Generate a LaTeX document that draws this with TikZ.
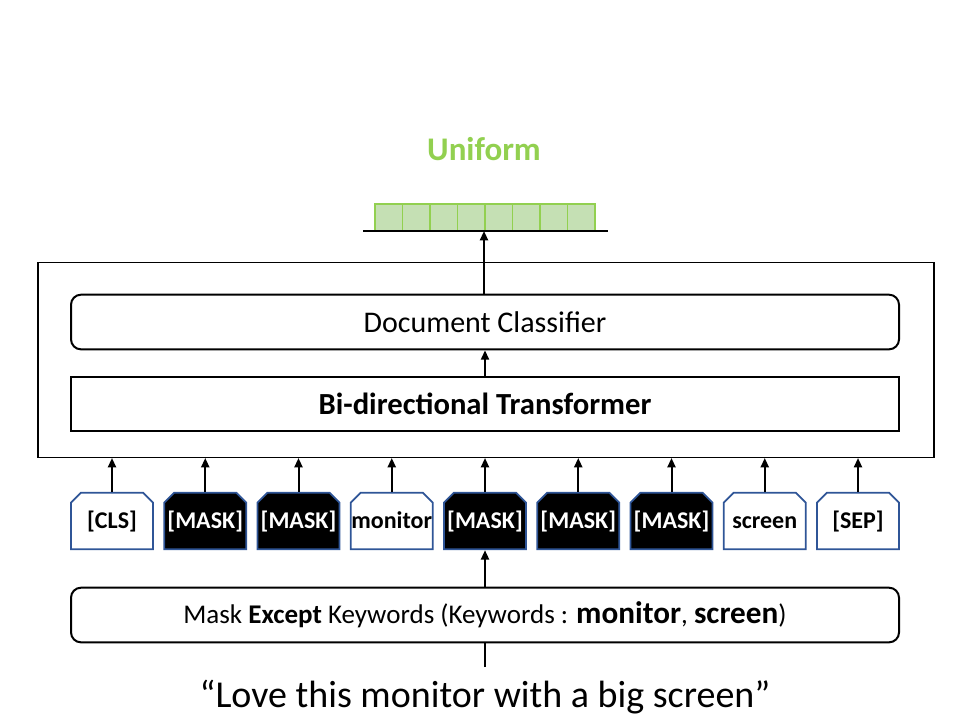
\documentclass[tikz,border=0pt]{standalone}
\usepackage{fontspec}
\setmainfont{Carlito}
\usetikzlibrary{arrows.meta,shapes.misc}
\definecolor{tokblue}{HTML}{2F5597}
\definecolor{cellfill}{HTML}{C5E0B4}
\definecolor{celldraw}{HTML}{92D050}
\tikzset{
  up/.style={line width=1.5pt,-{Triangle[length=7pt,width=6pt]}},
  layer/.style={draw,line width=1.5pt,minimum width=621pt,minimum height=41pt,inner sep=0pt},
  tok/.style={chamfered rectangle,chamfered rectangle corners={north west,north east},
    chamfered rectangle xsep=7.5pt,chamfered rectangle ysep=7.5pt,
    draw=tokblue,line width=1.3pt,minimum width=61.5pt,minimum height=42.5pt,inner sep=0pt,
    font=\fontsize{18}{20}\selectfont\bfseries},
  plain/.style={tok,fill=white,text=black},
  masked/.style={tok,fill=black,text=white},
}
\begin{document}
\begin{tikzpicture}[x=0.75pt,y=-0.75pt]
  \useasboundingbox(0,0)rectangle(969,726);
  % output bar
  \node[text=celldraw,font=\fontsize{24.75}{26}\selectfont\bfseries] (uniform) at (484,149) {Uniform};
  \foreach \i in {0,...,7}
    \filldraw[fill=cellfill,draw=celldraw,line width=1pt] (375+27.5*\i,204) rectangle ++(27.5,27);
  \coordinate (barl) at (363,231);
  \coordinate (barr) at (608,231);
  \coordinate (bar) at (484,231);
  \draw[line width=1.2pt] (barl) -- (barr);
  % model
  \node[draw,line width=1pt,minimum width=672pt,minimum height=146pt,inner sep=0pt] (model) at (486,360) {};
  \node[layer,rounded corners=7.5pt,font=\fontsize{22.5}{24}\selectfont] (clf) at (485,322) {Document Classifier};
  \node[layer,font=\fontsize{23}{24}\selectfont\bfseries] (bert) at (485,404) {Bi-directional Transformer};
  \draw[up] (clf.north -| bar) -- (bar);
  \draw[up] (bert.north) -- (clf.south);
  % tokens
  \foreach \lab/\sty [count=\k] in {{[CLS]}/plain,{[MASK]}/masked,{[MASK]}/masked,monitor/plain,
      {[MASK]}/masked,{[MASK]}/masked,{[MASK]}/masked,screen/plain,{[SEP]}/plain}{
    \node[\sty] (t\k) at (112+93.25*\k-93.25,521) {\makebox[0pt]{\vphantom{[}\lab}};
    \draw[up] (t\k.north) -- (t\k.north |- model.south);
  }
  % masking step
  \node[layer,rounded corners=7.5pt,font=\fontsize{20.25}{22}\selectfont] (mask) at (485,615)
    {Mask \textbf{Except} Keywords (Keywords : {\fontsize{23.4}{24}\selectfont\bfseries monitor}, {\fontsize{23.4}{24}\selectfont\bfseries screen})};
  \draw[up] (mask.north) -- (t5.south);
  \node[font=\fontsize{28.5}{30}\selectfont] (sent) at (485,697) {“Love this monitor with a big screen”};
  \coordinate (senttop) at (485,667);
  \draw[line width=1.2pt] (senttop) -- (mask.south);
\end{tikzpicture}
\end{document}
